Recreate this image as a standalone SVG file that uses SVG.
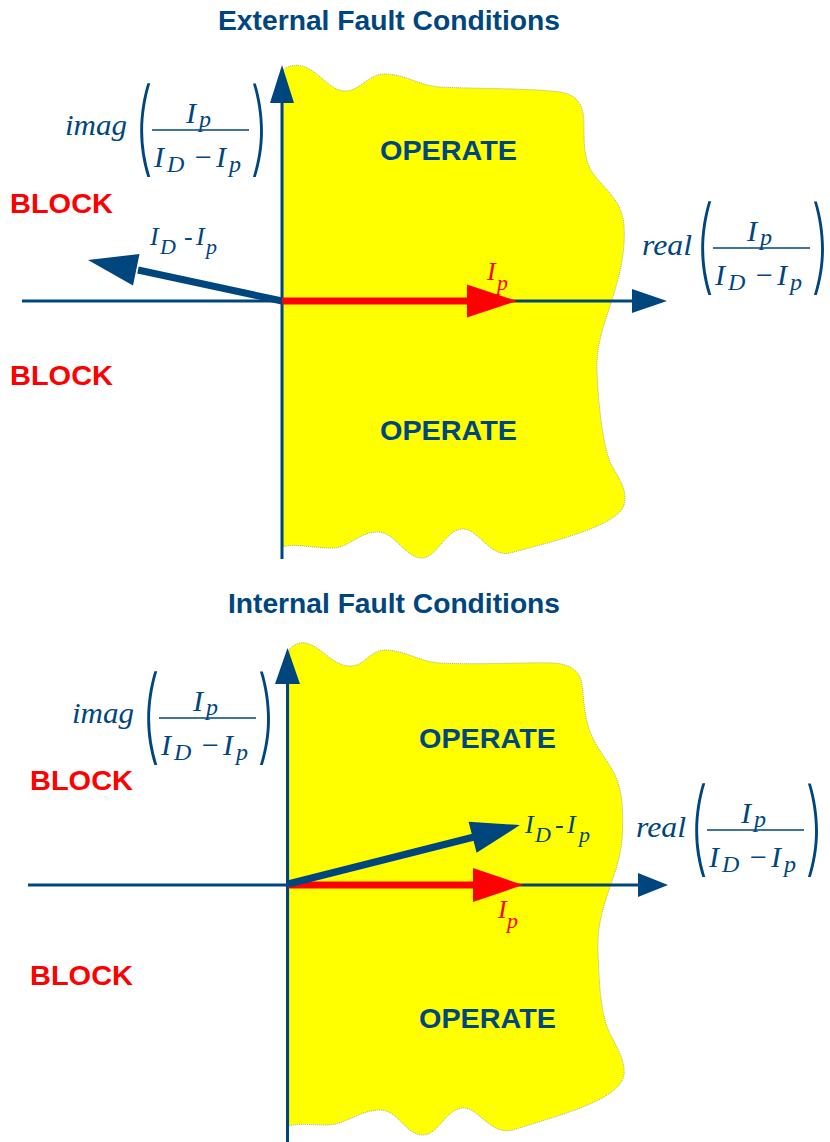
<svg xmlns="http://www.w3.org/2000/svg" width="830" height="1142" viewBox="0 0 830 1142">
<style>
.title{font-family:"Liberation Sans",Arial,sans-serif;font-weight:bold;font-size:28px;fill:#00467E;text-anchor:start}
.op{font-family:"Liberation Sans",Arial,sans-serif;font-weight:bold;font-size:28px;fill:#00467E}
.blk{font-family:"Liberation Sans",Arial,sans-serif;font-weight:bold;font-size:28px;fill:#FF0000}
.m{font-family:"Liberation Serif","Times New Roman",serif;font-style:italic;font-size:30px;fill:#00467E}
.s{font-size:24px}
.v{font-family:"Liberation Serif","Times New Roman",serif;font-style:italic;font-size:26px;fill:#00467E}
.vs{font-size:22px}
.vr{fill:#FF0000}
.par{font-family:Inter,"DejaVu Sans",sans-serif;font-weight:200;font-size:103px;fill:#00467E}
.bar{stroke:#00467E;stroke-width:1.5}
.zone{fill:#FFFF00;stroke:#8a9a9a;stroke-width:0.8;stroke-dasharray:1 1}
.axis{stroke:#00467E;stroke-width:3;fill:none}
.ah{fill:#00467E}
.vb{stroke:#00467E;stroke-width:7;fill:none}
.vrd{stroke:#FF0000;stroke-width:7;fill:none}
.rh{fill:#FF0000}
</style>

<!-- ===== Top panel ===== -->
<g id="title-external"><text class="title" x="218" y="30" textLength="342" lengthAdjust="spacingAndGlyphs">External Fault Conditions</text></g>

<g id="operate-zone-top">
<path class="zone" d="M 283 70 C 288 66, 295 64, 302 66 C 318 70, 330 91, 345 91 C 360 91, 368 74, 385 74 C 405 74, 420 86, 440 87 C 480 89, 530 88, 560 92 C 578 95, 584 105, 584 125 C 584 145, 584 158, 592 172 C 605 190, 622 200, 624 225 C 626 255, 618 280, 612 300 C 604 325, 596 345, 597 370 C 598 400, 602 440, 610 462 C 618 478, 628 488, 624 505 C 618 525, 560 540, 510 553 C 490 558, 478 528, 462 529 C 445 530, 436 560, 420 558 C 404 556, 395 532, 377 532 C 360 532, 348 548, 333 548 C 310 548, 295 543, 283 547 Z"/>
</g>

<g id="labels-top">
<text class="op" x="380" y="160" textLength="137" lengthAdjust="spacingAndGlyphs">OPERATE</text>
<text class="op" x="380" y="440" textLength="137" lengthAdjust="spacingAndGlyphs">OPERATE</text>
<text class="blk" x="10" y="213" textLength="103" lengthAdjust="spacingAndGlyphs">BLOCK</text>
<text class="blk" x="10" y="385" textLength="103" lengthAdjust="spacingAndGlyphs">BLOCK</text>
</g>

<g id="connectors-top">
<line class="axis" x1="282" y1="559" x2="282" y2="100"/>
<polygon class="ah" points="282,65 270,103 294,103"/>
<line class="axis" x1="22" y1="301" x2="636" y2="301"/>
<polygon class="ah" points="667,301 632,289 632,313"/>
<line class="vb" x1="282" y1="301" x2="138" y2="270"/>
<polygon class="ah" points="88,260 139.5,254 133,285.5"/>
<line class="vrd" x1="282" y1="301" x2="470" y2="301"/>
<polygon class="rh" points="517,301 467,284.5 467,317.5"/>
</g>

<g id="vec-label-top">
<text class="v"><tspan x="150" y="245">I</tspan><tspan class="vs" x="160" y="254">D</tspan><tspan x="184" y="245">-</tspan><tspan x="196" y="245">I</tspan><tspan class="vs" x="206" y="254">p</tspan></text>
<text class="v vr"><tspan x="487" y="280">I</tspan><tspan class="vs" x="497" y="290">p</tspan></text>
</g>

<g id="formula-imag-top" transform="translate(137,130)">
<text class="m" x="-72" y="5" textLength="62" lengthAdjust="spacingAndGlyphs">imag</text>
<text class="par" transform="translate(-4,33) scale(0.62,1)">(</text>
<line class="bar" x1="15" y1="0" x2="112" y2="0"/>
<text class="m"><tspan x="49" y="-7">I</tspan><tspan class="s" x="62" y="-3">p</tspan></text>
<text class="m"><tspan x="17" y="37">I</tspan><tspan class="s" x="30" y="42">D</tspan><tspan x="56" y="37">−</tspan><tspan x="79" y="37">I</tspan><tspan class="s" x="92" y="42">p</tspan></text>
<text class="par" transform="translate(112,33) scale(0.62,1)">)</text>
</g>

<g id="formula-real-top" transform="translate(698,248)">
<text class="m" x="-56" y="7" textLength="50" lengthAdjust="spacingAndGlyphs">real</text>
<text class="par" transform="translate(-4,33) scale(0.62,1)">(</text>
<line class="bar" x1="15" y1="0" x2="112" y2="0"/>
<text class="m"><tspan x="49" y="-7">I</tspan><tspan class="s" x="62" y="-3">p</tspan></text>
<text class="m"><tspan x="17" y="37">I</tspan><tspan class="s" x="30" y="42">D</tspan><tspan x="56" y="37">−</tspan><tspan x="79" y="37">I</tspan><tspan class="s" x="92" y="42">p</tspan></text>
<text class="par" transform="translate(112,33) scale(0.62,1)">)</text>
</g>

<!-- ===== Bottom panel ===== -->
<g id="title-internal"><text class="title" x="228" y="613" textLength="332" lengthAdjust="spacingAndGlyphs">Internal Fault Conditions</text></g>

<g id="operate-zone-bottom">
<path class="zone" d="M 289 650 C 293 645, 299 642, 305 643 C 322 646, 332 666, 350 666 C 365 666, 370 650, 385 650 C 405 650, 420 662, 440 663 C 480 665, 530 662, 553 663 C 570 664, 578 670, 581 680 C 584 692, 583 708, 588 725 C 593 745, 608 760, 615 775 C 622 790, 624 810, 622 840 C 620 860, 614 875, 610 887 C 604 905, 597 925, 598 950 C 599 980, 600 1000, 605 1020 C 610 1040, 626 1055, 624 1075 C 620 1100, 560 1115, 513 1130 C 490 1136, 478 1106, 462 1108 C 445 1110, 438 1136, 422 1135 C 405 1134, 398 1110, 380 1110 C 360 1110, 345 1125, 327 1125 C 310 1125, 298 1123, 289 1126 Z"/>
</g>

<g id="labels-bottom">
<text class="op" x="419" y="748" textLength="137" lengthAdjust="spacingAndGlyphs">OPERATE</text>
<text class="op" x="419" y="1028" textLength="137" lengthAdjust="spacingAndGlyphs">OPERATE</text>
<text class="blk" x="30" y="790" textLength="103" lengthAdjust="spacingAndGlyphs">BLOCK</text>
<text class="blk" x="30" y="985" textLength="103" lengthAdjust="spacingAndGlyphs">BLOCK</text>
</g>

<g id="connectors-bottom">
<line class="axis" x1="287.5" y1="1142" x2="287.5" y2="680"/>
<polygon class="ah" points="287.5,648 275,684 300,684"/>
<line class="axis" x1="28" y1="885" x2="641" y2="885"/>
<polygon class="ah" points="668,885 638,873 638,897"/>
<line class="vrd" x1="288" y1="885" x2="476" y2="885"/>
<polygon class="rh" points="523,885 473,868 473,902"/>
<line class="vb" x1="288" y1="884" x2="474" y2="837"/>
<polygon class="ah" points="520,825 468.6,821.8 476.6,852.8"/>
</g>

<g id="vec-label-bottom">
<text class="v"><tspan x="525" y="833">I</tspan><tspan class="vs" x="535" y="842">D</tspan><tspan x="555" y="833">-</tspan><tspan x="567" y="833">I</tspan><tspan class="vs" x="579" y="842">p</tspan></text>
<text class="v vr"><tspan x="498" y="918">I</tspan><tspan class="vs" x="507" y="928">p</tspan></text>
</g>

<g id="formula-imag-bottom" transform="translate(144,718)">
<text class="m" x="-72" y="5" textLength="62" lengthAdjust="spacingAndGlyphs">imag</text>
<text class="par" transform="translate(-4,33) scale(0.62,1)">(</text>
<line class="bar" x1="15" y1="0" x2="112" y2="0"/>
<text class="m"><tspan x="49" y="-7">I</tspan><tspan class="s" x="62" y="-3">p</tspan></text>
<text class="m"><tspan x="17" y="37">I</tspan><tspan class="s" x="30" y="42">D</tspan><tspan x="56" y="37">−</tspan><tspan x="79" y="37">I</tspan><tspan class="s" x="92" y="42">p</tspan></text>
<text class="par" transform="translate(112,33) scale(0.62,1)">)</text>
</g>

<g id="formula-real-bottom" transform="translate(692,830)">
<text class="m" x="-56" y="7" textLength="50" lengthAdjust="spacingAndGlyphs">real</text>
<text class="par" transform="translate(-4,33) scale(0.62,1)">(</text>
<line class="bar" x1="15" y1="0" x2="112" y2="0"/>
<text class="m"><tspan x="49" y="-7">I</tspan><tspan class="s" x="62" y="-3">p</tspan></text>
<text class="m"><tspan x="17" y="37">I</tspan><tspan class="s" x="30" y="42">D</tspan><tspan x="56" y="37">−</tspan><tspan x="79" y="37">I</tspan><tspan class="s" x="92" y="42">p</tspan></text>
<text class="par" transform="translate(112,33) scale(0.62,1)">)</text>
</g>
</svg>
